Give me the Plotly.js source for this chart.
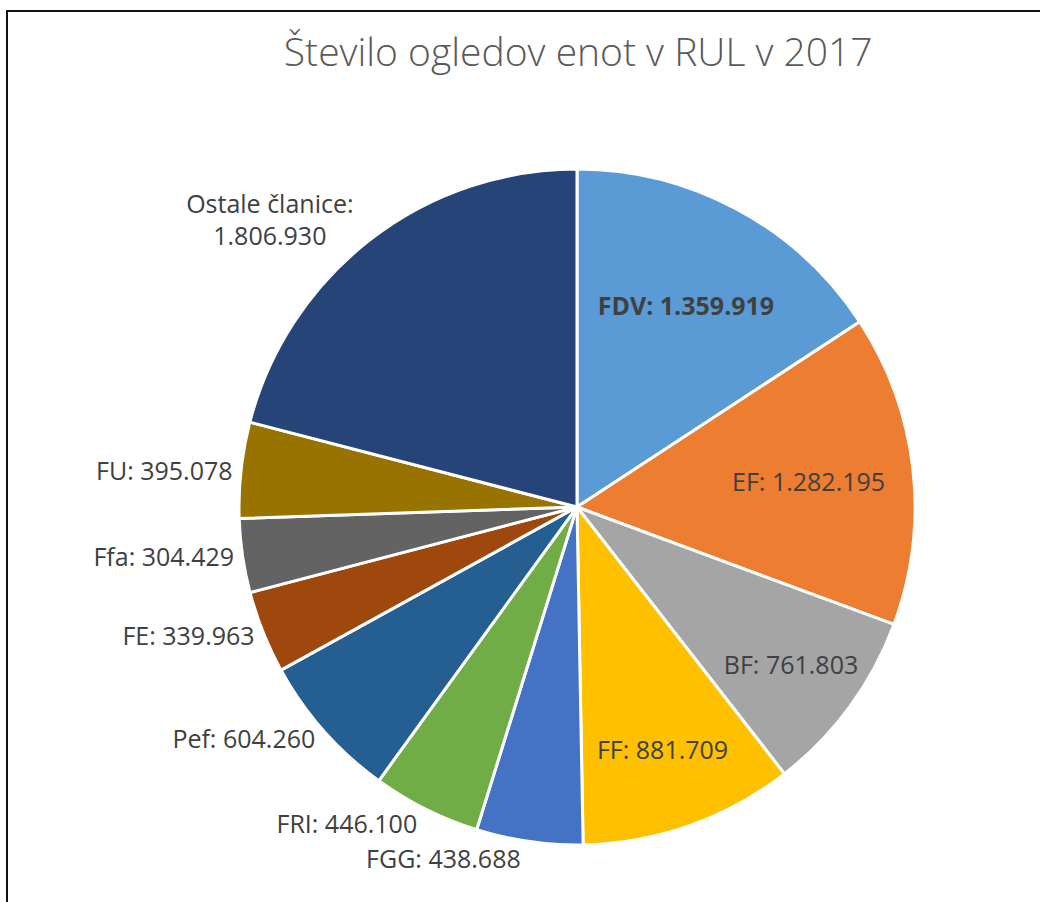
<!DOCTYPE html>
<html>
<head>
<meta charset="utf-8">
<script src="https://cdn.plot.ly/plotly-3.0.1.min.js"></script>
<style>
  html, body { margin: 0; padding: 0; background: #fff; }
  #wrap { position: absolute; left: 0; top: 0; width: 1040px; height: 902px; overflow: hidden; }
  #frame { position: absolute; left: 6px; top: 10px; width: 1100px; height: 1000px; border-left: 2px solid #111; border-top: 2px solid #111; box-sizing: border-box; pointer-events: none; }
  #chart { position: absolute; left: 0; top: 0; width: 1040px; height: 902px; }
</style>
</head>
<body>
<div id="wrap">
  <div id="chart"></div>
  <div id="frame"></div>
</div>
<script>
const categories = ["FDV", "EF", "BF", "FF", "FGG", "FRI", "Pef", "FE", "Ffa", "FU", "Ostale članice"];
const values = [1359919, 1282195, 761803, 881709, 438688, 446100, 604260, 339963, 304429, 395078, 1806930];
const colors = ["#5B9BD5", "#ED7D31", "#A5A5A5", "#FFC000", "#4472C4", "#70AD47", "#255E91", "#9E480E", "#636363", "#997300", "#264478"];
const positions = ["inside", "inside", "inside", "inside", "outside", "outside", "outside", "outside", "outside", "outside", "outside"];
const templates = categories.map((c, i) => {
  if (i === 0) return "<b>%{label}: %{value:,.0f}</b>";
  if (c === "Ostale članice") return "%{label}:<br>%{value:,.0f}";
  return "%{label}: %{value:,.0f}";
});

const W = 1040, H = 902;
const cx = 577, cy = 507, r = 338;

const trace = {
  type: "pie",
  labels: categories,
  values: values,
  sort: false,
  direction: "clockwise",
  rotation: 0,
  marker: { colors: colors, line: { color: "#ffffff", width: 3 } },
  texttemplate: templates,
  textposition: positions,
  insidetextorientation: "horizontal",
  textfont: { family: "Open Sans, sans-serif", size: 25, color: "#404040" },
  hoverinfo: "label+value",
  showlegend: false,
  domain: {
    x: [(cx - r) / W, (cx + r) / W],
    y: [(H - cy - r) / H, (H - cy + r) / H]
  }
};

const layout = {
  width: W,
  height: H,
  margin: { l: 0, r: 0, t: 0, b: 0 },
  paper_bgcolor: "#ffffff",
  separators: ",.",
  title: {
    text: "Število ogledov enot v RUL v 2017",
    font: { family: "Open Sans, sans-serif", size: 39, color: "#595959", weight: 300 },
    x: 0.556,
    xanchor: "center",
    y: 1 - 52 / H,
    yanchor: "middle"
  }
};

Plotly.newPlot("chart", [trace], layout, { displayModeBar: false, staticPlot: true });
</script>
</body>
</html>
